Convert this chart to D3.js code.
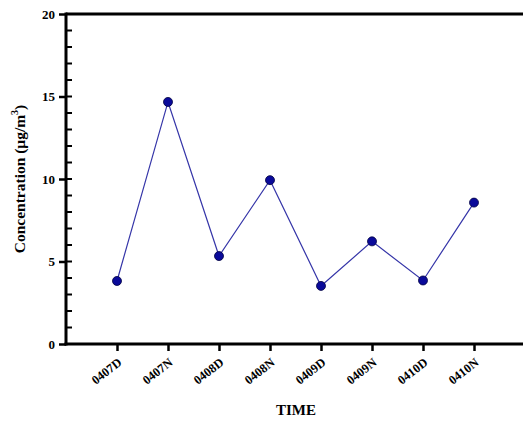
<!DOCTYPE html>
<html><head><meta charset="utf-8">
<script src="https://cdn.jsdelivr.net/npm/d3@7"></script>
<style>body{margin:0;background:#fff}svg{display:block}text{font-family:"Liberation Serif","Times New Roman",serif;font-weight:bold}</style>
</head><body><svg id="c" width="523" height="422"></svg>
<script>
const categories = ["0407D","0407N","0408D","0408N","0409D","0409N","0410D","0410N"];
const values = [3.82, 14.67, 5.33, 9.93, 3.52, 6.22, 3.85, 8.57];
const yTicks = [0,5,10,15,20];
const yMinorTicks = d3.range(1,20);

const svg = d3.select("#c");
const x0 = 66, yTop = 14, yBot = 344;
const x = d3.scaleLinear().domain([0, 9]).range([x0, x0 + 9*51]);
const y = d3.scaleLinear().domain([0, 20]).range([yBot, yTop]);

// top border
svg.append("line").attr("x1", x0).attr("x2", 523).attr("y1", yTop).attr("y2", yTop)
  .attr("stroke", "#000").attr("stroke-width", 3);

// y axis
const yAxis = svg.append("g").attr("transform", `translate(${x0},0)`)
  .call(d3.axisLeft(y).tickValues(yTicks).tickSize(7).tickPadding(4).tickFormat(d3.format("d")));
yAxis.select(".domain").remove();
yAxis.selectAll(".tick line").attr("stroke-width", 2.5);
yAxis.selectAll("text").attr("font-size", 13).attr("fill", "#000");
svg.append("g").selectAll("line").data(yMinorTicks).join("line")
  .attr("x1", x0).attr("x2", x0 + 6).attr("y1", d => y(d)).attr("y2", d => y(d))
  .attr("stroke", "#000").attr("stroke-width", 2);
svg.append("line").attr("x1", x0).attr("x2", x0).attr("y1", yTop - 1.5).attr("y2", yBot + 1.5)
  .attr("stroke", "#000").attr("stroke-width", 3);

// x axis
const xAxis = svg.append("g").attr("transform", `translate(0,${yBot})`)
  .call(d3.axisBottom(x).tickValues(d3.range(1, 9)).tickSize(7).tickFormat(d => categories[d-1]));
xAxis.select(".domain").remove();
xAxis.selectAll(".tick line").attr("stroke-width", 2.5);
xAxis.selectAll("text").attr("font-size", 12.5).attr("fill", "#000")
  .attr("text-anchor", "end").attr("y", 0).attr("dy", null)
  .attr("transform", "translate(5,20) rotate(-38)");
svg.append("line").attr("x1", x0 - 1.5).attr("x2", 523).attr("y1", yBot).attr("y2", yBot)
  .attr("stroke", "#000").attr("stroke-width", 3);

// line + points
const pts = values.map((v, i) => [x(i+1), y(v)]);
svg.append("path").datum(pts).attr("d", d3.line()).attr("fill", "none")
  .attr("stroke", "#3535a8").attr("stroke-width", 1.2);
svg.append("g").selectAll("circle").data(pts).join("circle")
  .attr("cx", d => d[0]).attr("cy", d => d[1]).attr("r", 4.5)
  .attr("fill", "#0a0a9a").attr("stroke", "#000040").attr("stroke-width", 0.8);

// titles
svg.append("text").attr("x", 296).attr("y", 415).attr("text-anchor", "middle")
  .attr("font-size", 15).text("TIME");
const yt = svg.append("text").attr("transform", "translate(25,179) rotate(-90)")
  .attr("text-anchor", "middle").attr("font-size", 15.5);
yt.append("tspan").text("Concentration (μg/m");
yt.append("tspan").attr("font-size", 10).attr("dy", -7).text("3");
yt.append("tspan").attr("dy", 7).text(")");
</script></body></html>
